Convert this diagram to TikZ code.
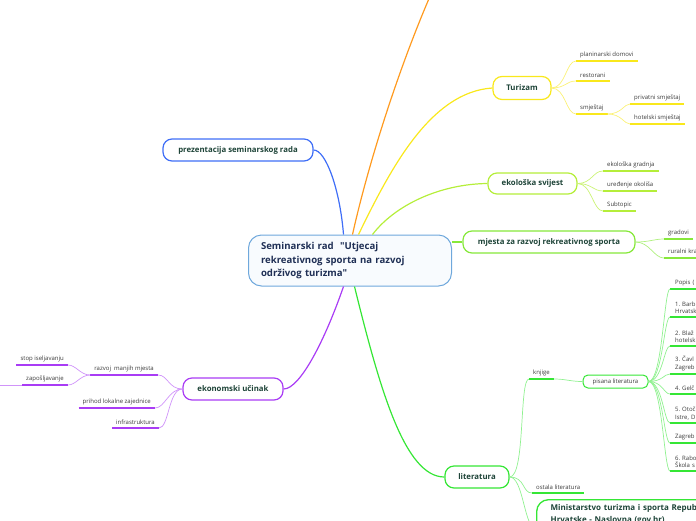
\documentclass[tikz,border=0pt]{standalone}
\usepackage{fontspec}
\setmainfont{Open Sans}
\usepackage{tikz}
\usetikzlibrary{calc}
\frenchspacing
\definecolor{cborder}{HTML}{6FA8DC}
\definecolor{cfill}{HTML}{F8FBFE}
\definecolor{navy}{HTML}{1F2F55}
\definecolor{dteal}{HTML}{1E4438}
\definecolor{leaftxt}{HTML}{3A3A3A}
\definecolor{bblue}{HTML}{3F6EF7}
\definecolor{borange}{HTML}{FF9A1F}
\definecolor{byellow}{HTML}{F9E81C}
\definecolor{blime}{HTML}{B5EE3A}
\definecolor{bgreen}{HTML}{86E83A}
\definecolor{lgreen}{HTML}{35E635}
\definecolor{bpurple}{HTML}{A93CF5}
\tikzset{
  topic/.style={draw,line width=1.2pt,rounded corners=9pt,minimum height=22pt,fill=white,
                font=\fontsize{7.8}{9}\selectfont\bfseries,text=dteal,inner sep=0pt},
  leaf/.style={font=\fontsize{6}{7.5}\selectfont,text=leaftxt,inner xsep=4pt,inner ysep=3pt,anchor=south west},
  leafl/.style={leaf,anchor=south east},
  uline/.style={line width=1.6pt},
  br/.style={line width=1.2pt},
  twig/.style={line width=0.7pt},
}

\begin{document}
\begin{tikzpicture}[x=1pt,y=-1pt]
\useasboundingbox (0,0) rectangle (696,520);
% central topic
\node[draw=cborder,fill=cfill,line width=1pt,rounded corners=13pt,minimum width=203pt,minimum height=51pt,
      text width=178pt,align=left,font=\fontsize{9.6}{14}\selectfont\bfseries,text=navy] (c) at (350,260.5)
 {Seminarski rad \ \textquotedbl Utjecaj\\rekreativnog sporta na razvoj\\održivog turizma\textquotedbl};
% main topics
\node[topic,draw=bblue,minimum width=150pt] (pz) at (238,150) {prezentacija seminarskog rada};
\node[topic,draw=byellow,minimum width=58pt,minimum height=23pt] (tu) at (522,88) {Turizam};
\node[topic,draw=blime,minimum width=89pt,minimum height=21pt] (ek) at (532.5,183.5) {ekološka svijest};
\node[topic,draw=bgreen,minimum width=172pt] (mj) at (549,242) {mjesta za razvoj rekreativnog sporta};
\node[topic,draw=lgreen,minimum width=64pt] (li) at (477,477) {literatura};
\node[topic,draw=bpurple,minimum width=100pt] (eu) at (233,389) {ekonomski učinak};
\coordinate (off1) at (431,-6);
% branches from the centre
\draw[br,bblue] ([xshift=-6.5pt]c.north) .. controls (340,190) and (326,150) .. (pz.east);
\draw[br,borange] ([xshift=2.5pt]c.north) .. controls (368,165) and (398,70) .. (off1);
\draw[br,byellow] ([xshift=8.5pt]c.north) .. controls (390,170) and (430,92) .. (tu.west);
\draw[br,blime] ([xshift=22.5pt]c.north) .. controls (395,205) and (440,184) .. (ek.west);
\draw[br,bgreen] (mj.west) -- (mj.west -| c.east);
\draw[br,lgreen] ([xshift=4.5pt]c.south) .. controls (380,390) and (405,477) .. (li.west);
\draw[br,bpurple] ([xshift=-6.5pt]c.south) .. controls (325,340) and (300,389) .. (eu.east);

% Turizam
\foreach \n/\x/\y/\t in {td/576/61/planinarski domovi,tr/576/81/restorani,ts/576/114/smještaj,
                         tp/630/104/privatni smještaj,th/630/124/hotelski smještaj}{
  \node[leaf] (\n) at (\x,\y) {\t};
  \draw[uline,byellow] (\n.south west) -- (\n.south east);}
\foreach \n in {td,tr,ts}
  \draw[twig,byellow!60] (tu.east) .. controls +(14,0) and +(-10,0) .. (\n.south west);
\foreach \n in {tp,th}
  \draw[twig,byellow!60] (ts.south east) .. controls +(14,0) and +(-6,0) .. (\n.south west);

% ekoloska svijest
\foreach \n/\t/\y in {eg/ekološka gradnja/171,uo/uređenje okoliša/191,sb/Subtopic/211}{
  \node[leaf] (\n) at (603,\y) {\t};
  \draw[uline,blime] (\n.south west) -- (\n.south east);
  \draw[twig,blime!70] (ek.east) .. controls +(14,0) and +(-10,0) .. (\n.south west);}

% mjesta
\foreach \n/\t/\y in {gr/gradovi/239,rk/ruralni kraj/258}{
  \node[leaf] (\n) at (664,\y) {\t};
  \draw[uline,bgreen] (\n.south west) -- (\n.south east);
  \draw[twig,bgreen!65] (mj.east) .. controls +(14,0) and +(-10,0) .. (\n.south west);}

% ekonomski ucinak
\foreach \n/\x/\y/\t in {rm/158/375/razvoj \ manjih mjesta,pr/155/408/prihod lokalne zajednice,
                         inf/159/428/infrastruktura}{
  \node[leafl] (\n) at (\x,\y) {\t};
  \draw[uline,bpurple] (\n.south west) -- (\n.south east);
  \draw[twig,bpurple!55] (eu.west) .. controls +(-14,0) and +(10,0) .. (\n.south east);}
\foreach \n/\t/\y in {si/stop iseljavanju/365,zp/zapošljavanje/385}{
  \node[leafl] (\n) at (68,\y) {\t};
  \draw[uline,bpurple] (\n.south west) -- (\n.south east);
  \draw[twig,bpurple!55] (rm.south west) .. controls +(-10,0) and +(8,0) .. (\n.south east);}
\coordinate (off2) at (-10,385);
\draw[twig,bpurple!55] (zp.south west) -- (off2);

% literatura
\node[leaf] (kn) at (529,379) {knjige};
\node[leaf] (ol) at (532,493) {ostala literatura};
\foreach \n in {kn,ol} \draw[uline,lgreen] (\n.south west) -- (\n.south east);
\node[draw=lgreen,line width=1pt,rounded corners=5pt,minimum width=65pt,minimum height=13pt,inner sep=0pt,
      font=\fontsize{6}{7}\selectfont,text=leaftxt] (pl) at (615.5,381.5) {pisana literatura};
\node[draw=lgreen,line width=1.3pt,rounded corners=12pt,anchor=north west,fill=white,inner xsep=14pt,inner ysep=5pt,
      text width=200pt,text depth=42pt,align=left,font=\fontsize{8}{11.5}\selectfont\bfseries,text=dteal] (mi) at (536,499)
 {Ministarstvo turizma i sporta Republike\\Hrvatske - Naslovna (gov.hr)};
\foreach \n in {kn,ol}
  \draw[twig,lgreen!55] (li.east) .. controls +(16,0) and +(-10,0) .. (\n.south west);
\draw[twig,lgreen!55] (li.east) .. controls +(14,0) and +(-12,0) .. (mi.west);
\draw[twig,lgreen!55] (kn.south east) .. controls +(12,0) and +(-12,0) .. (pl.west);
\foreach \n/\y/\t in {p0/289/{Popis (},p1/317/{1. Barb\\Hrvatsk},p2/346/{2. Blaž\\hotelsk},p3/374/{3. Čavl\\Zagreb},
                      p4/394/{4. Gelč},p5/423/{5. Otoč\\Istre, D},p6/443/{Zagreb},p7/471/{6. Rabo\\Škola s}}{
  \node[leaf,text width=40pt,align=left,inner xsep=5pt] (\n) at (670,\y) {\t};
  \draw[uline,lgreen] (\n.south west) -- (\n.south east);
  \draw[twig,lgreen!55] (pl.east) .. controls +(14,0) and +(-6,0) .. (\n.south west);}
\end{tikzpicture}
\end{document}
